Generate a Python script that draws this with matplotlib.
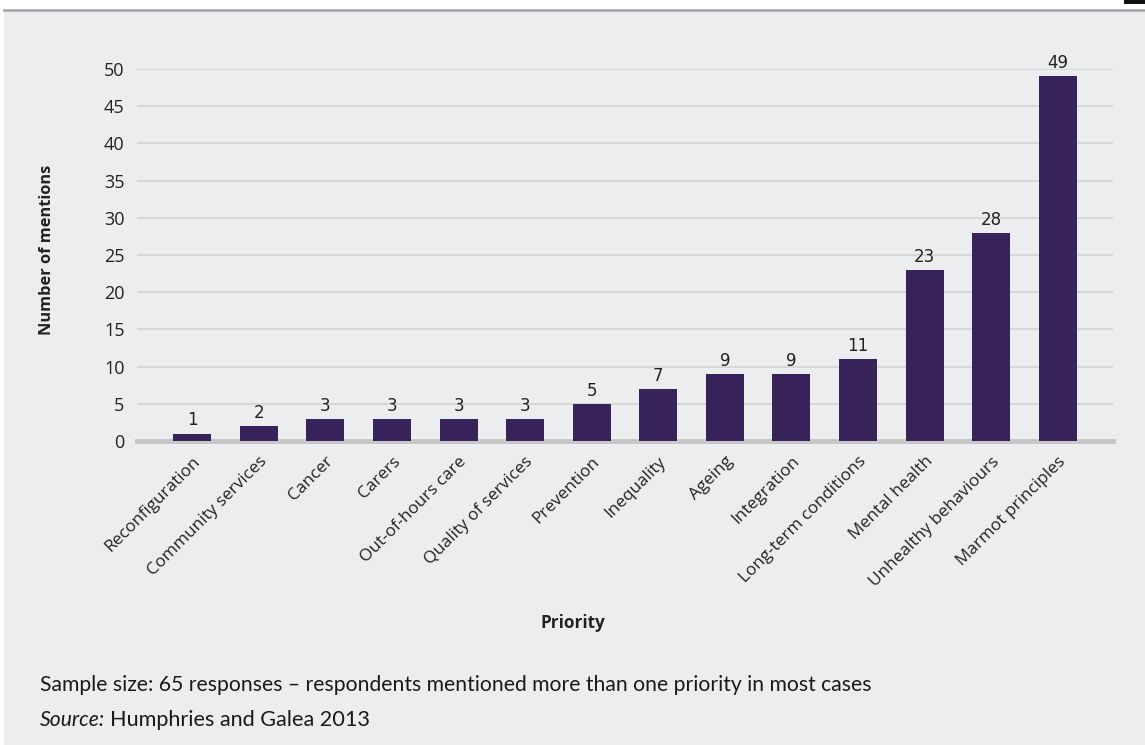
import matplotlib.pyplot as plt
from matplotlib.patches import Rectangle
from matplotlib.lines import Line2D

priorities = ['Reconfiguration', 'Community services', 'Cancer', 'Carers',
              'Out-of-hours care', 'Quality of services', 'Prevention',
              'Inequality', 'Ageing', 'Integration', 'Long-term conditions',
              'Mental health', 'Unhealthy behaviours', 'Marmot principles']
mentions = [1, 2, 3, 3, 3, 3, 5, 7, 9, 9, 11, 23, 28, 49]
y_ticks = [0, 5, 10, 15, 20, 25, 30, 35, 40, 45, 50]

bg = '#ecedef'
bar_color = '#38225a'
W, H = 1145, 745

fig = plt.figure(figsize=(W / 100, H / 100), dpi=100)
fig.patch.set_facecolor('white')

# grey panel behind the chart with a rule along its top edge
fig.patches.append(Rectangle((4 / W, 0), 1, 1 - 10 / H, transform=fig.transFigure,
                             facecolor=bg, edgecolor='none', zorder=-10))
fig.lines.append(Line2D([4 / W, 1], [1 - 9.5 / H, 1 - 9.5 / H], transform=fig.transFigure,
                        color='#a3a3a6', linewidth=1.8, zorder=-5))
fig.patches.append(Rectangle((1124 / W, 1 - 4 / H), 1, 1, transform=fig.transFigure,
                             facecolor='#111111', edgecolor='none', zorder=-5))

ax = fig.add_axes([137 / W, 1 - 441 / H, (1113 - 137) / W, (441 - 69) / H])
ax.set_facecolor(bg)

x = list(range(len(priorities)))
ax.bar(x, mentions, width=0.57, color=bar_color, zorder=3)

for xi, v in zip(x, mentions):
    ax.text(xi, v + 0.55, str(v), ha='center', va='bottom', fontsize=12,
            color='#222222', family='DejaVu Sans', zorder=4, clip_on=False)

ax.set_xlim(-0.83, len(priorities) - 1 + 0.83)
ax.set_ylim(0, 50)
ax.set_yticks(y_ticks)
ax.set_yticklabels([str(t) for t in y_ticks], family='Open Sans', fontsize=13, color='#222222')
ax.tick_params(axis='y', length=0, pad=9)
ax.tick_params(axis='x', length=0, pad=9)

ax.set_xticks(x)
ax.set_xticklabels(priorities, rotation=45, ha='right', va='top', rotation_mode='anchor',
                   family='Open Sans', fontsize=12.3, color='#222222')

ax.grid(axis='y', color='#d2d3d5', linewidth=1.2, zorder=0)
ax.set_axisbelow(True)
for side in ['top', 'right', 'left']:
    ax.spines[side].set_visible(False)
ax.spines['bottom'].set_color('#c6c6c6')
ax.spines['bottom'].set_linewidth(3.5)
ax.spines['bottom'].set_zorder(2)

fig.text(573 / W, 1 - 623 / H, 'Priority', ha='center', va='center',
         family='Open Sans', fontweight='bold', fontsize=12.3, color='#222222')
fig.text(47 / W, 1 - 250 / H, 'Number of mentions', ha='center', va='center', rotation=90,
         family='Open Sans', fontweight='bold', fontsize=11.8, color='#222222')

# notes under the chart
fig.text(40 / W, 1 - 685 / H,
         'Sample size: 65 responses \u2013 respondents mentioned more than one priority in most cases',
         ha='left', va='center', family='Lato', fontsize=15.2, color='#1a1a1a')
src = fig.text(40 / W, 1 - 720 / H, 'Source:', ha='left', va='center', family='Lato',
               style='italic', fontsize=15.2, color='#1a1a1a')
fig.canvas.draw()
src_end = src.get_window_extent().x1
fig.text((src_end + 5) / W, 1 - 720 / H, 'Humphries and Galea 2013', ha='left', va='center',
         family='Lato', fontsize=15.6, color='#1a1a1a')

fig.savefig('out.png', dpi=100, facecolor=fig.get_facecolor())
